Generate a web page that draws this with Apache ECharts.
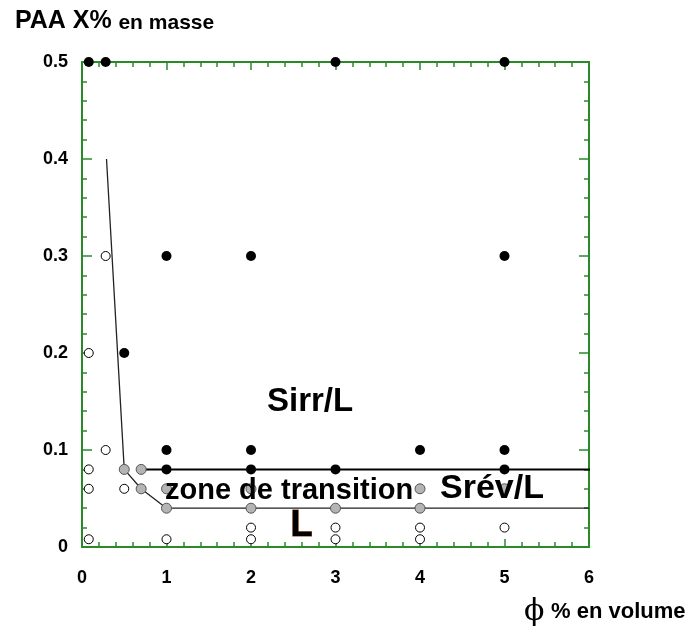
<!DOCTYPE html>
<html>
<head>
<meta charset="utf-8">
<script src="https://cdn.jsdelivr.net/npm/echarts@6/dist/echarts.min.js"></script>
<style>html,body{margin:0;padding:0;background:#fff}#c{width:691px;height:635px}</style>
</head>
<body>
<div id="c"></div>
<script>
// Data (x = phi % en volume, y = PAA X% en masse)
const xTicks = [0, 1, 2, 3, 4, 5, 6];
const yTicks = [0, 0.1, 0.2, 0.3, 0.4, 0.5];
// filled black points: Sirr/L
const filledPts = [
  [0.08, 0.5], [0.28, 0.5], [3, 0.5], [5, 0.5],
  [1, 0.3], [2, 0.3], [5, 0.3],
  [0.5, 0.2],
  [1, 0.1], [2, 0.1], [4, 0.1], [5, 0.1],
  [1, 0.08], [2, 0.08], [3, 0.08], [5, 0.08]
];
// open circles: L
const openPts = [
  [0.28, 0.3], [0.08, 0.2], [0.28, 0.1], [0.08, 0.08],
  [0.08, 0.06], [0.5, 0.06],
  [2, 0.02], [3, 0.02], [4, 0.02], [5, 0.02],
  [0.08, 0.008], [1, 0.008], [2, 0.008], [3, 0.008], [4, 0.008]
];
// grey points: transition zone
const greyPts = [
  [0.5, 0.08], [0.7, 0.08],
  [0.7, 0.06], [1, 0.06], [2, 0.06], [4, 0.06], [5, 0.06],
  [1, 0.04], [2, 0.04], [3, 0.04], [4, 0.04]
];
// boundary lines
const lowerBoundary = [[0.29, 0.4], [0.5, 0.08], [0.7, 0.06], [1, 0.04], [6, 0.04]];
const upperBoundary = [[0.7, 0.08], [6.1, 0.08]];

const green = '#2a8a2a';
const F = 'Liberation Sans, Arial, sans-serif';

function axisCommon(majorLen) {
  return {
    axisLine: { show: true, onZero: false, lineStyle: { color: green, width: 2 } },
    axisTick: { show: true, inside: true, length: majorLen, lineStyle: { color: green, width: 1.5 } },
    minorTick: { show: true, splitNumber: 5, length: 5, lineStyle: { color: green, width: 1.5 } },
    splitLine: { show: false },
    minorSplitLine: { show: false }
  };
}

const chart = echarts.init(document.getElementById('c'));
chart.setOption({
  animation: false,
  backgroundColor: '#fff',
  grid: { left: 82, right: 102, top: 62, bottom: 88 },
  xAxis: [
    Object.assign({
      type: 'value', min: xTicks[0], max: xTicks[xTicks.length - 1], interval: 1, position: 'bottom',
      axisLabel: { show: true, margin: 22, color: '#000', fontFamily: F, fontWeight: 'bold', fontSize: 18,
        formatter: v => String(v) }
    }, axisCommon(8)),
    Object.assign({
      type: 'value', min: xTicks[0], max: xTicks[xTicks.length - 1], interval: 1, position: 'top',
      axisLabel: { show: false }
    }, axisCommon(8))
  ],
  yAxis: [
    Object.assign({
      type: 'value', min: yTicks[0], max: yTicks[yTicks.length - 1], interval: 0.1, position: 'left',
      axisLabel: { show: true, margin: 14, color: '#000', fontFamily: F, fontWeight: 'bold', fontSize: 18,
        formatter: v => (v === 0 ? '0' : v.toFixed(1)) }
    }, axisCommon(10)),
    Object.assign({
      type: 'value', min: yTicks[0], max: yTicks[yTicks.length - 1], interval: 0.1, position: 'right',
      axisLabel: { show: false }
    }, axisCommon(10))
  ],
  series: [
    { type: 'line', data: lowerBoundary, symbol: 'none', lineStyle: { color: '#222', width: 1.3 }, z: 2 },
    { type: 'line', data: upperBoundary, symbol: 'none', clip: false, lineStyle: { color: '#000', width: 2 }, z: 2 },
    { type: 'scatter', data: greyPts, symbol: 'circle', symbolSize: 10,
      itemStyle: { color: '#b4b4b4', borderColor: '#555', borderWidth: 1, opacity: 1 }, z: 3 },
    { type: 'scatter', data: openPts, symbol: 'circle', symbolSize: 9,
      itemStyle: { color: '#fff', borderColor: '#000', borderWidth: 1, opacity: 1 }, z: 3 },
    { type: 'scatter', data: filledPts, symbol: 'circle', symbolSize: 10,
      itemStyle: { color: '#000', opacity: 1 }, z: 4 }
  ],
  graphic: [
    { type: 'text', left: 15, top: 9, z: 100,
      style: { text: '{a|PAA X%}  {b|en masse}', rich: {
        a: { fontFamily: F, fontWeight: 'bold', fontSize: 25, fill: '#000' },
        b: { fontFamily: F, fontWeight: 'bold', fontSize: 21, fill: '#000', padding: [3, 0, 0, 0] } } } },
    { type: 'text', left: 524, top: 597, z: 100,
      style: { text: '{p|ϕ}  {b|% en volume}', rich: {
        p: { fontFamily: 'DejaVu Serif, Liberation Serif, serif', fontSize: 30, fill: '#000' },
        b: { fontFamily: F, fontWeight: 'bold', fontSize: 22, fill: '#000' } } } },
    { type: 'text', left: 267, top: 385, z: 100,
      style: { text: 'Sirr/L', fontFamily: F, fontWeight: 'bold', fontSize: 33, fill: '#000' } },
    { type: 'text', left: 165, top: 476, z: 100,
      style: { text: 'zone de transition', fontFamily: F, fontWeight: 'bold', fontSize: 29, fill: '#000' } },
    { type: 'text', left: 440, top: 472, z: 100,
      style: { text: 'Srév/L', fontFamily: F, fontWeight: 'bold', fontSize: 34, fill: '#000' } },
    { type: 'text', left: 290, top: 507, z: 100,
      style: { text: 'L', fontFamily: F, fontWeight: 'bold', fontSize: 36, fill: '#000', stroke: '#8b3a1a', lineWidth: 1.2 } }
  ]
});
</script>
</body>
</html>
